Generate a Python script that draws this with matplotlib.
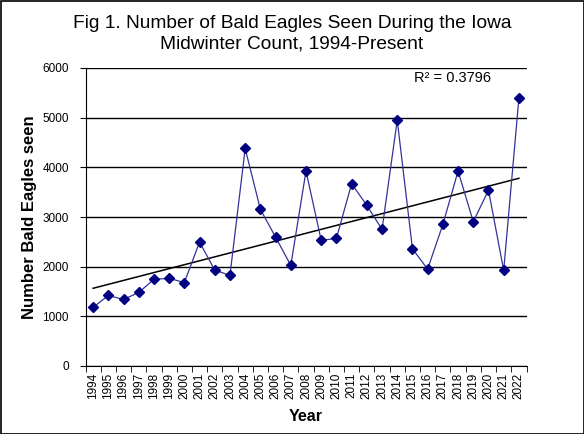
import numpy as np
import matplotlib
matplotlib.use("Agg")
import matplotlib.pyplot as plt
from matplotlib.patches import Rectangle

years = [str(y) for y in range(1994, 2023)]
eagles = [1180, 1420, 1340, 1480, 1745, 1765, 1680, 2495, 1930, 1825,
          4380, 3155, 2595, 2025, 3925, 2530, 2570, 3670, 3235, 2750,
          4950, 2360, 1950, 2850, 3925, 2905, 3540, 1925, 5390]
r2_label = "R\u00b2 = 0.3796"

plt.rcParams['font.family'] = ['Liberation Sans', 'DejaVu Sans']

fig = plt.figure(figsize=(5.84, 4.34), dpi=100)
ax = fig.add_axes([85.5 / 584, 1 - 366 / 434, 441 / 584, 298 / 434])

x = np.arange(len(years))
ax.plot(x, eagles, color='#333399', lw=0.9, marker='D', markersize=5.5,
        markerfacecolor='#000080', markeredgecolor='#000080', zorder=3)

# linear trend line like Excel
coef = np.polyfit(x, eagles, 1)
ax.plot(x, np.polyval(coef, x), color='black', lw=1.1, zorder=2)

ax.set_xlim(-0.5, len(years) - 0.5)
ax.set_ylim(0, 6000)
ax.set_yticks(range(0, 6001, 1000))
ax.yaxis.grid(True, color='black', lw=1.0)
ax.set_axisbelow(True)

ax.set_xticks(x)
ax.set_xticklabels(years, rotation=90, fontsize=8.5)
ax.set_xticks(np.arange(-0.5, len(years)), minor=True)
ax.tick_params(axis='x', which='major', length=0, pad=5)
ax.tick_params(axis='x', which='minor', length=4, direction='out')
ax.tick_params(axis='y', length=4, direction='out', labelsize=8.5, pad=8)

for s in ['top', 'right']:
    ax.spines[s].set_visible(False)

ax.set_xlabel('Year', fontsize=11.5, fontweight='bold', labelpad=7)
ax.set_ylabel('Number Bald Eagles seen', fontsize=12, fontweight='bold', labelpad=4)

fig.text(0.5, 1 - 34 / 434, 'Fig 1. Number of Bald Eagles Seen During the Iowa\nMidwinter Count, 1994-Present',
         ha='center', va='center', fontsize=13.8, linespacing=1.25)
ax.text(0.745, 0.965, r2_label, transform=ax.transAxes, fontsize=10.5, va='center')

fig.patches.append(Rectangle((0.5 / 584, 0.5 / 434), 583 / 584, 433 / 434, transform=fig.transFigure,
                             fill=False, edgecolor='black', lw=1.2))

fig.savefig('out.png', dpi=100)
